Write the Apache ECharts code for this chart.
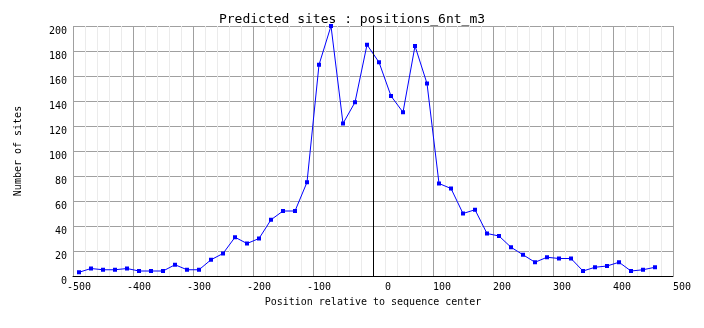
<!DOCTYPE html>
<html>
<head>
<meta charset="utf-8">
<script src="https://cdn.jsdelivr.net/npm/echarts@6/dist/echarts.min.js"></script>
<style>
  html, body { margin: 0; padding: 0; background: #fff; }
  #chart { width: 704px; height: 328px; }
</style>
</head>
<body>
<div id="chart"></div>
<script>
// positions (bin centres) and site counts
var positions = [-490, -470, -450, -430, -410, -390, -370, -350, -330, -310,
  -290, -270, -250, -230, -210, -190, -170, -150, -130, -110,
  -90, -70, -50, -30, -10, 10, 30, 50, 70, 90,
  110, 130, 150, 170, 190, 210, 230, 250, 270, 290,
  310, 330, 350, 370, 390, 410, 430, 450, 470]
var counts = [3, 6, 5, 5, 6, 4, 4, 4, 9, 5,
  5, 13, 18, 31, 26, 30, 45, 52, 52, 75,
  169, 200, 122, 139, 185, 171, 144, 131, 184, 154,
  74, 70, 50, 53, 34, 32, 23, 17, 11, 15,
  14, 14, 4, 7, 8, 11, 4, 5, 7]
var centerLine = 0

var font = 'DejaVu Sans Mono'
var points = positions.map(function (p, i) { return [p, counts[i]] })

var myChart = echarts.init(document.getElementById('chart'))
myChart.setOption({
  backgroundColor: '#ffffff',
  animation: false,
  title: {
    text: 'Predicted sites : positions_6nt_m3',
    left: 'center',
    top: 8,
    textStyle: { fontFamily: font, fontSize: 13, fontWeight: 'normal', color: '#000' }
  },
  grid: { left: 73, right: 31, top: 26, bottom: 52 },
  xAxis: {
    type: 'value',
    min: -500,
    max: 500,
    interval: 100,
    name: 'Position relative to sequence center',
    nameLocation: 'middle',
    nameGap: 21,
    nameTextStyle: { fontFamily: font, fontSize: 10, color: '#000' },
    axisLine: { show: true, onZero: false, lineStyle: { color: '#000', width: 1 } },
    axisTick: { show: false },
    axisLabel: {
      fontFamily: font, fontSize: 10, color: '#000', margin: 6,
      align: 'right', padding: [0, -18, 0, 0]
    },
    splitLine: { show: true, lineStyle: { color: '#a0a0a0', width: 1 } },
    minorTick: { show: false, splitNumber: 5 },
    minorSplitLine: { show: true, lineStyle: { color: '#ebebeb', width: 1 } }
  },
  yAxis: {
    type: 'value',
    min: 0,
    max: 200,
    interval: 20,
    name: 'Number of sites',
    nameLocation: 'middle',
    nameGap: 50,
    nameTextStyle: { fontFamily: font, fontSize: 10, color: '#000' },
    axisLine: { show: true, lineStyle: { color: '#000', width: 1 } },
    axisTick: { show: false },
    axisLabel: {
      fontFamily: font, fontSize: 10, color: '#000', margin: 6,
      verticalAlign: 'top', lineHeight: 10
    },
    splitLine: { show: true, lineStyle: { color: '#a0a0a0', width: 1 } }
  },
  series: [{
    name: 'sites',
    type: 'line',
    data: points,
    symbol: 'rect',
    symbolSize: 4,
    showAllSymbol: true,
    itemStyle: { color: '#0000ff' },
    lineStyle: { color: '#0000ff', width: 1 },
    markLine: {
      silent: true,
      symbol: 'none',
      label: { show: false },
      lineStyle: { color: '#000', width: 1, type: 'solid' },
      data: [{ xAxis: centerLine }]
    }
  }]
})
</script>
</body>
</html>
